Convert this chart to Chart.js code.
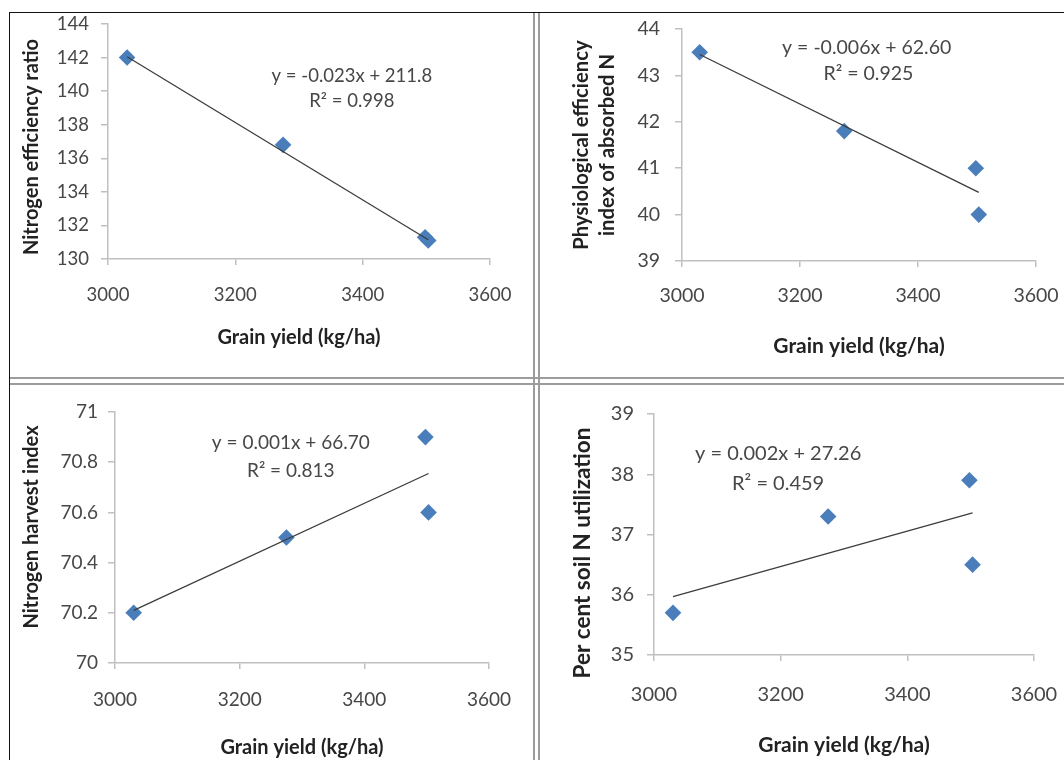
<!DOCTYPE html>
<html>
<head>
<meta charset="utf-8">
<script src="https://cdn.jsdelivr.net/npm/chart.js@4/dist/chart.umd.min.js"></script>
<style>
  body { margin: 0; background: #fff; }
  #page { position: relative; width: 1064px; height: 760px; overflow: hidden; background: #fff; }
  .ln { position: absolute; }
  canvas { position: absolute; }
</style>
</head>
<body>
<div id="page">
  <div class="ln" style="left:9px;top:12px;width:1055px;height:1px;background:#111"></div>
  <div class="ln" style="left:9px;top:12px;width:1px;height:748px;background:#111"></div>
  <div class="ln" style="left:533px;top:13px;width:2px;height:747px;background:#9c9c9c"></div>
  <div class="ln" style="left:538px;top:13px;width:2px;height:747px;background:#9c9c9c"></div>
  <div class="ln" style="left:10px;top:377px;width:1054px;height:2px;background:#9c9c9c"></div>
  <div class="ln" style="left:10px;top:383px;width:1054px;height:2px;background:#9c9c9c"></div>
  <canvas id="c1" width="522" height="363" style="left:10px;top:13px"></canvas>
  <canvas id="c2" width="524" height="363" style="left:540px;top:13px"></canvas>
  <canvas id="c3" width="522" height="374" style="left:10px;top:386px"></canvas>
  <canvas id="c4" width="524" height="374" style="left:540px;top:386px"></canvas>
</div>
<script>
// grain yield (kg/ha) of the four treatments
var grainYield = [3030, 3275, 3498, 3503];

var nitrogenEfficiency = [142.0, 136.8, 131.3, 131.1];
var physiologicalEfficiency = [43.5, 41.8, 41.0, 40.0];
var nitrogenHarvest = [70.2, 70.5, 70.9, 70.6];
var soilNUtilization = [35.7, 37.3, 37.9, 36.5];

// trend line ends
var trendX = [3030, 3503];
var trendNER = [142.05, 131.15];
var trendPEI = [43.45, 40.48];
var trendNHI = [70.21, 70.755];
var trendSNU = [35.97, 37.36];

var xTicks = [3000, 3200, 3400, 3600];
var yTicksNER = [130, 132, 134, 136, 138, 140, 142, 144];
var yTicksPEI = [39, 40, 41, 42, 43, 44];
var yTicksNHI = [70, 70.2, 70.4, 70.6, 70.8, 71];
var yTicksSNU = [35, 36, 37, 38, 39];

var FONT = "Lato, 'Open Sans', sans-serif";
var AXIS_COL = '#c0c0c0';
var TEXT_COL = '#474747';
var TITLE_COL = '#222';
var MARK_COL = '#4a7ebb';

// regression equation text, placed in data units
var equationLabel = {
  id: 'equationLabel',
  afterDatasetsDraw: function(chart, args, opts) {
    var ctx = chart.ctx;
    var xs = chart.scales.x, ys = chart.scales.y;
    ctx.save();
    ctx.font = opts.size + 'px ' + FONT;
    ctx.fillStyle = TEXT_COL;
    ctx.textAlign = 'center';
    ctx.textBaseline = 'middle';
    opts.lines.forEach(function(l) {
      ctx.fillText(l.text, xs.getPixelForValue(l.x), ys.getPixelForValue(l.y));
    });
    ctx.restore();
  }
};

// rotated y axis title (Excel does not always centre it on the axis)
var yAxisTitle = {
  id: 'yAxisTitle',
  afterDraw: function(chart, args, opts) {
    var ctx = chart.ctx;
    ctx.save();
    ctx.font = 'bold ' + opts.size + 'px ' + FONT;
    ctx.fillStyle = TITLE_COL;
    ctx.textAlign = 'center';
    ctx.textBaseline = 'middle';
    opts.lines.forEach(function(t, i) {
      ctx.save();
      ctx.translate(opts.x + i * opts.lineGap, opts.y);
      ctx.rotate(-Math.PI / 2);
      ctx.fillText(t, 0, 0);
      ctx.restore();
    });
    ctx.restore();
  }
};

function points(ys) {
  return grainYield.map(function(x, i) { return {x: x, y: ys[i]}; });
}
function trend(ys) {
  return trendX.map(function(x, i) { return {x: x, y: ys[i]}; });
}

function makeChart(id, g) {
  var ctx = document.getElementById(id);
  var W = ctx.width, H = ctx.height;
  return new Chart(ctx, {
    type: 'scatter',
    data: {
      datasets: [
        {
          type: 'line',
          data: trend(g.trend),
          borderColor: '#3c3c3c',
          borderWidth: 1.3,
          pointRadius: 0,
          fill: false
        },
        {
          data: points(g.values),
          pointStyle: 'rectRot',
          pointRadius: 8.3,
          backgroundColor: MARK_COL,
          borderColor: MARK_COL,
          borderWidth: 0
        }
      ]
    },
    options: {
      responsive: false,
      animation: false,
      events: [],
      layout: { padding: { top: g.top, right: W - g.right, left: 0, bottom: 0 } },
      plugins: {
        legend: { display: false },
        tooltip: { enabled: false },
        equationLabel: { lines: g.labels, size: g.eqSize },
        yAxisTitle: g.yTitle
      },
      scales: {
        x: {
          type: 'linear',
          min: 3000, max: 3600,
          afterBuildTicks: function(s) { s.ticks = xTicks.map(function(v) { return {value: v}; }); },
          afterFit: function(s) { s.height = H - g.bottom; s.paddingLeft = 0; s.paddingRight = 0; },
          ticks: {
            font: { family: FONT, size: g.tickSize }, color: TEXT_COL, padding: g.xTickPad, maxRotation: 0,
            callback: function(v) { return String(v); }
          },
          grid: { drawOnChartArea: false, drawTicks: true, tickLength: 6, color: AXIS_COL, lineWidth: 1.5 },
          border: { color: AXIS_COL, width: 1.5 },
          title: {
            display: true, text: 'Grain yield (kg/ha)', color: TITLE_COL,
            font: { family: FONT, size: g.xTitleSize, weight: 'bold' },
            padding: { top: 0, bottom: g.xTitlePad }
          }
        },
        y: {
          type: 'linear',
          min: g.yTicks[0], max: g.yTicks[g.yTicks.length - 1],
          afterBuildTicks: function(s) { s.ticks = g.yTicks.map(function(v) { return {value: v}; }); },
          afterFit: function(s) { s.width = g.left; s.paddingTop = 0; s.paddingBottom = 0; },
          ticks: {
            font: { family: FONT, size: g.tickSize }, color: TEXT_COL, padding: g.yTickPad,
            callback: function(v) { return String(v); }
          },
          grid: { drawOnChartArea: false, drawTicks: true, tickLength: 7, color: AXIS_COL, lineWidth: 1.5 },
          border: { color: AXIS_COL, width: 1.5 }
        }
      }
    },
    plugins: [equationLabel, yAxisTitle]
  });
}

makeChart('c1', {
  values: nitrogenEfficiency, trend: trendNER, yTicks: yTicksNER,
  left: 98, right: 480, top: 11, bottom: 246,
  tickSize: 18.5, xTickPad: 19, yTickPad: 12,
  xTitleSize: 20, xTitlePad: 26,
  yTitle: { lines: ['Nitrogen efficiency ratio'], size: 20, x: 22, y: 134, lineGap: 0 },
  eqSize: 18.5,
  labels: [
    {text: 'y = -0.023x + 211.8', x: 3383, y: 140.92},
    {text: 'R\u00b2 = 0.998', x: 3383, y: 139.39}
  ]
});

makeChart('c2', {
  values: physiologicalEfficiency, trend: trendPEI, yTicks: yTicksPEI,
  left: 142, right: 496, top: 16, bottom: 248,
  tickSize: 19.5, xTickPad: 17, yTickPad: 15,
  xTitleSize: 21, xTitlePad: 17,
  yTitle: { lines: ['Physiological efficiency', 'index of absorbed N'], size: 20.3, x: 41, y: 132, lineGap: 26 },
  eqSize: 19.5,
  labels: [
    {text: 'y = -0.006x + 62.60', x: 3313, y: 43.59},
    {text: 'R\u00b2 = 0.925', x: 3316, y: 43.03}
  ]
});

makeChart('c3', {
  values: nitrogenHarvest, trend: trendNHI, yTicks: yTicksNHI,
  left: 105, right: 479, top: 26, bottom: 277,
  tickSize: 19, xTickPad: 19.5, yTickPad: 10,
  xTitleSize: 20, xTitlePad: 0,
  yTitle: { lines: ['Nitrogen harvest index'], size: 20, x: 22, y: 141, lineGap: 0 },
  eqSize: 19,
  labels: [
    {text: 'y = 0.001x + 66.70', x: 3282, y: 70.878},
    {text: 'R\u00b2 = 0.813', x: 3282, y: 70.766}
  ]
});

makeChart('c4', {
  values: soilNUtilization, trend: trendSNU, yTicks: yTicksSNU,
  left: 114, right: 494, top: 28, bottom: 269,
  tickSize: 20, xTickPad: 22, yTickPad: 13,
  xTitleSize: 21, xTitlePad: 2.5,
  yTitle: { lines: ['Per cent soil N utilization'], size: 22.5, x: 43, y: 167, lineGap: 0 },
  eqSize: 20,
  labels: [
    {text: 'y = 0.002x + 27.26', x: 3196, y: 38.34},
    {text: 'R\u00b2 = 0.459', x: 3196, y: 37.85}
  ]
});
</script>
</body>
</html>
